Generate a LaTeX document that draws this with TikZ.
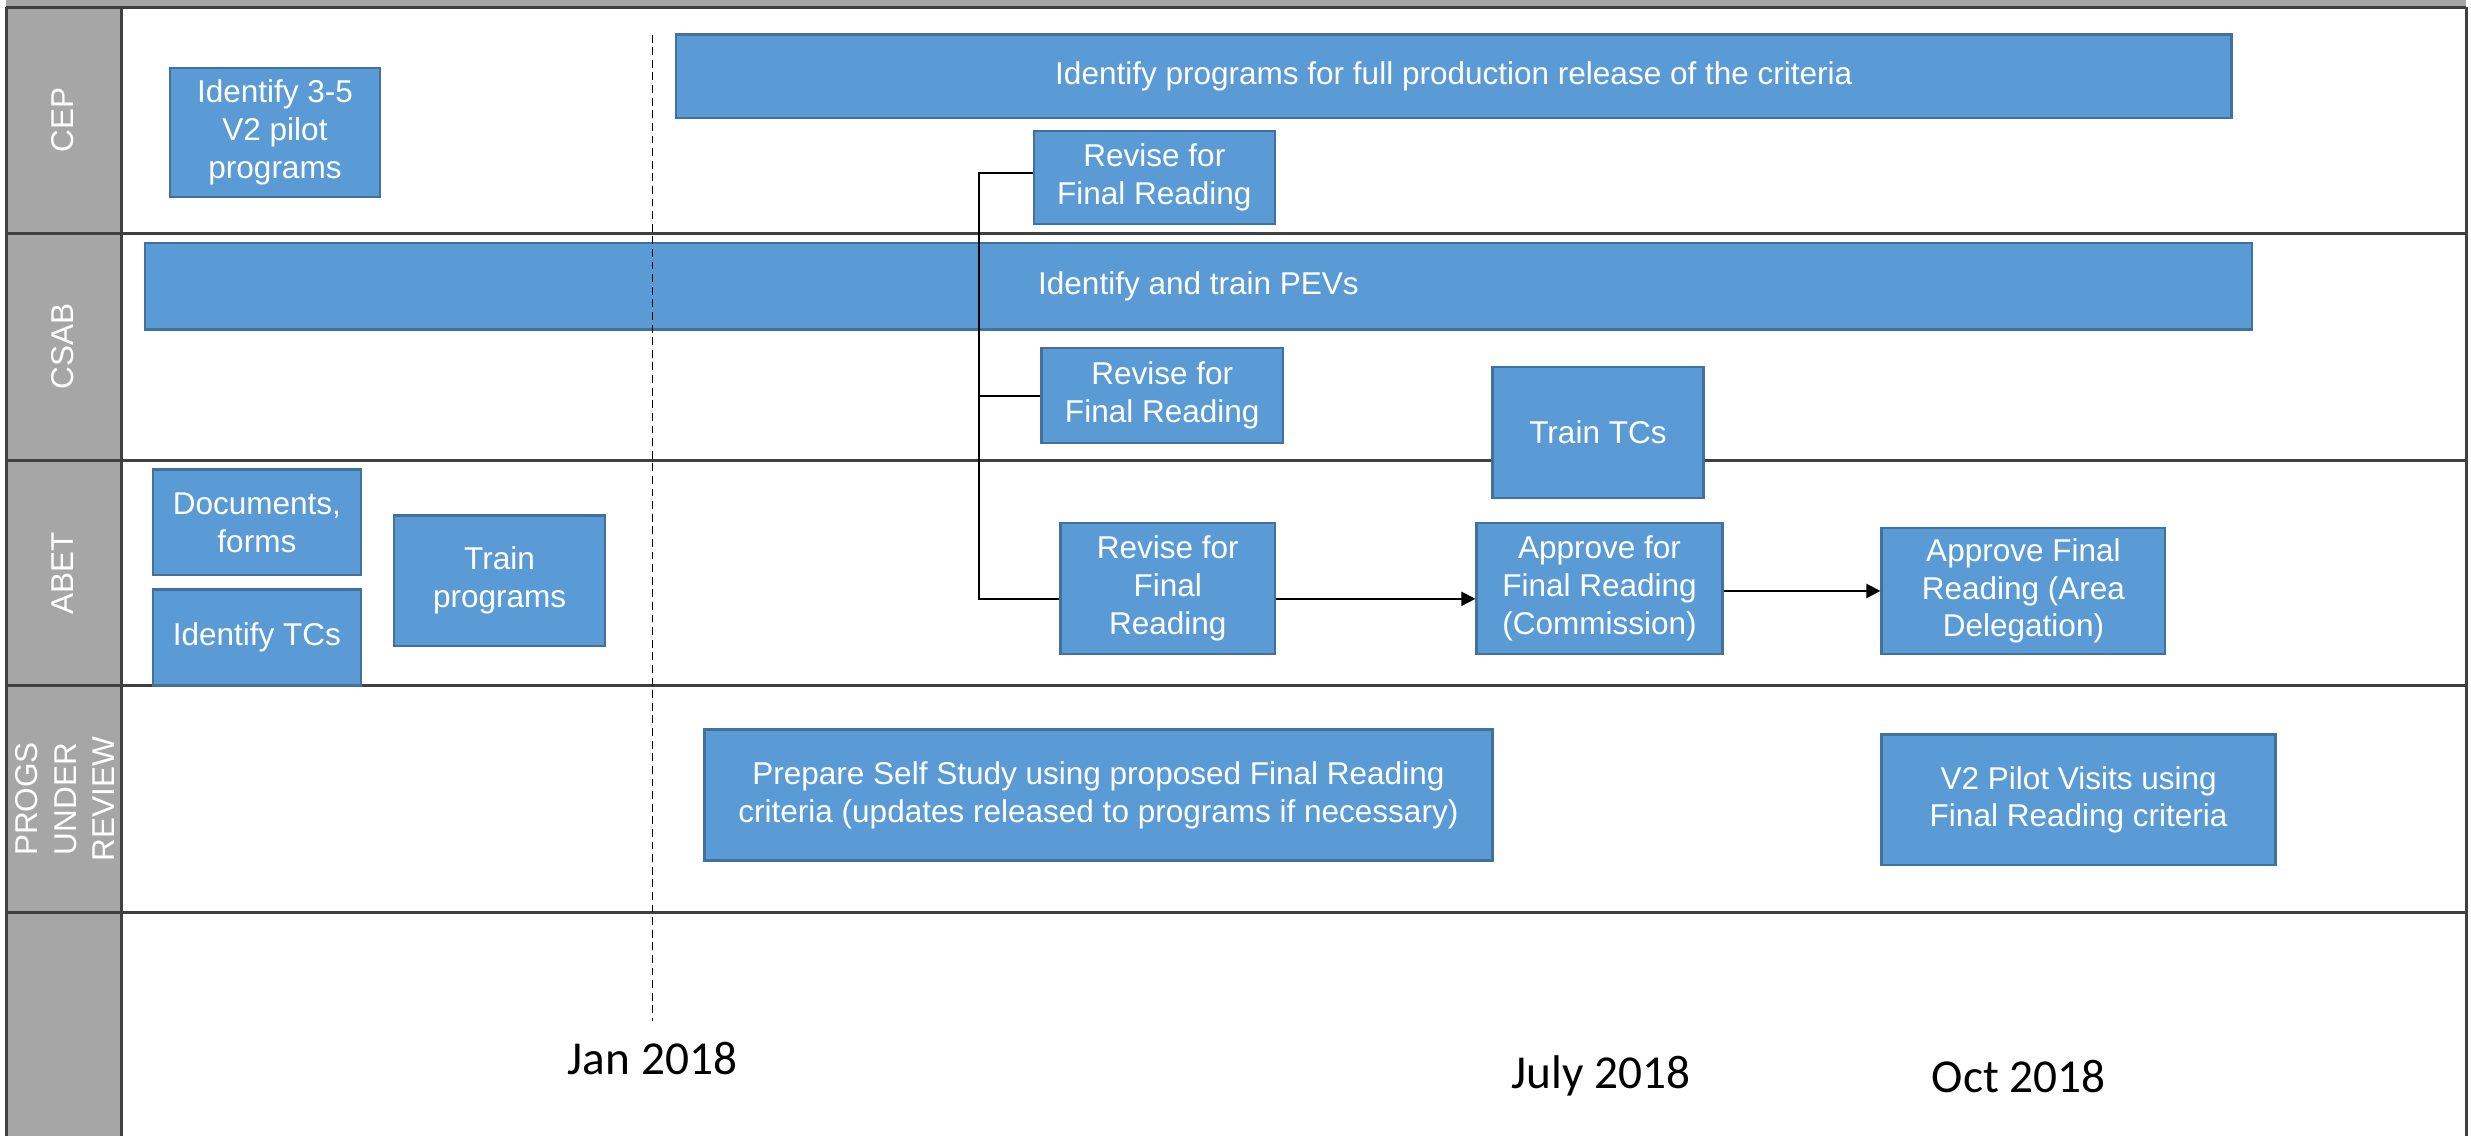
\documentclass[tikz,border=0pt]{standalone}
\usepackage{fontspec}
\setmainfont{Liberation Sans}
\newfontfamily\datefont{Carlito}
\usetikzlibrary{arrows.meta}
\definecolor{boxfill}{HTML}{5B9BD5}
\definecolor{boxline}{HTML}{41719C}
\definecolor{hdr}{HTML}{A6A6A6}
\definecolor{laneline}{HTML}{404040}
\begin{document}
\begin{tikzpicture}[x=1pt,y=-1pt,
  task/.style={draw=boxline, fill=boxfill, line width=1.5pt, text=white, align=center,
    font=\fontsize{20}{24}\selectfont, inner sep=0pt},
  lanelabel/.style={rotate=90, text=white, align=center, font=\fontsize{20}{24.4}\selectfont},
  lane/.style={draw=laneline, line width=2pt},
  link/.style={draw=black, line width=1.2pt},
  flow/.style={link, -{Triangle[length=9pt,width=9pt]}},
  datelbl/.style={font=\datefont\fontsize{30}{36}\selectfont},
  guide/.style={draw=black, line width=0.9pt, dash pattern=on 5pt off 3pt}]
\useasboundingbox (0,0) rectangle (1568,721);
\fill[white] (0,0) rectangle (1568,721);
% header column and top strip
\fill[hdr] (4,0) rectangle (77,721);
\fill[hdr] (4,0) rectangle (1565,4.5);
% lane labels
\node[lanelabel] (lcep) at (40,76) {CEP};
\node[lanelabel] (lcsab) at (40,220) {CSAB};
\node[lanelabel] (labet) at (40,364) {ABET};
\node[lanelabel] (lprog) at (41.5,507) {PROGS\\UNDER\\REVIEW};
% lane grid
\draw[lane] (4,4.5) -- (1565,4.5);
\foreach \yy in {148,292,435,579} {\draw[lane] (4,\yy) -- (1565,\yy);}
\draw[lane] (4,4.5) -- (4,721);
\draw[lane] (77,4.5) -- (77,721);
\draw[lane] (1565,4.5) -- (1565,721);
% tasks
\node[task, minimum width=133pt, minimum height=82pt] (b1) at (174.5,84) {Identify 3-5\\V2 pilot\\programs};
\node[task, minimum width=987pt, minimum height=53pt] (b2) at (922.5,48.5) {Identify programs for full production release of the criteria};
\node[task, minimum width=153pt, minimum height=59pt] (b3) at (732.5,112.5) {Revise for\\Final Reading};
\node[task, minimum width=1337pt, minimum height=55pt] (b4) at (760.5,181.5) {Identify and train PEVs};
\node[task, minimum width=153pt, minimum height=60pt] (b5) at (737.5,251) {Revise for\\Final Reading};
\node[task, minimum width=134pt, minimum height=83pt] (b6) at (1014,274.5) {Train TCs};
\node[task, minimum width=132pt, minimum height=67pt] (b7) at (163,331.5) {Documents,\\forms};
\node[task, minimum width=132pt, minimum height=61pt] (b8) at (163,404.5) {Identify TCs};
\node[task, minimum width=134pt, minimum height=83pt] (b9) at (317,368.5) {Train\\programs};
\node[task, minimum width=136pt, minimum height=83pt] (b10) at (741,373.5) {Revise for\\Final\\Reading};
\node[task, minimum width=156pt, minimum height=83pt] (b11) at (1015,373.5) {Approve for\\Final Reading\\(Commission)};
\node[task, minimum width=180pt, minimum height=80pt] (b12) at (1284,375) {Approve Final\\Reading (Area\\Delegation)};
\node[task, minimum width=500pt, minimum height=83pt] (b13) at (697,504.5) {Prepare Self Study using proposed Final Reading\\criteria (updates released to programs if necessary)};
\node[task, minimum width=250pt, minimum height=83pt] (b14) at (1319,507.5) {V2 Pilot Visits using\\Final Reading criteria};
% Jan 2018 guide
\coordinate (g1) at (414,22);
\coordinate (g2) at (414,648);
\draw[guide] (g1) -- (g2);
% bracket
\coordinate (j1) at (621,110);
\coordinate (j2) at (621,251);
\coordinate (j3) at (621,380);
\draw[link] (j1 -| b3.west) -- (j1) -- (j3) -- (j3 -| b10.west);
\draw[link] (j2) -- (j2 -| b5.west);
% flow arrows
\draw[flow] (j3 -| b10.east) -- (j3 -| b11.west);
\draw[flow] (b11.east |- b12.west) -- (b12.west);
% dates
\node[datelbl] (jan) at (414,672) {Jan 2018};
\node[datelbl] (jul) at (1016,683) {July 2018};
\node[datelbl] (oct) at (1281,683) {Oct 2018};
\end{tikzpicture}
\end{document}
